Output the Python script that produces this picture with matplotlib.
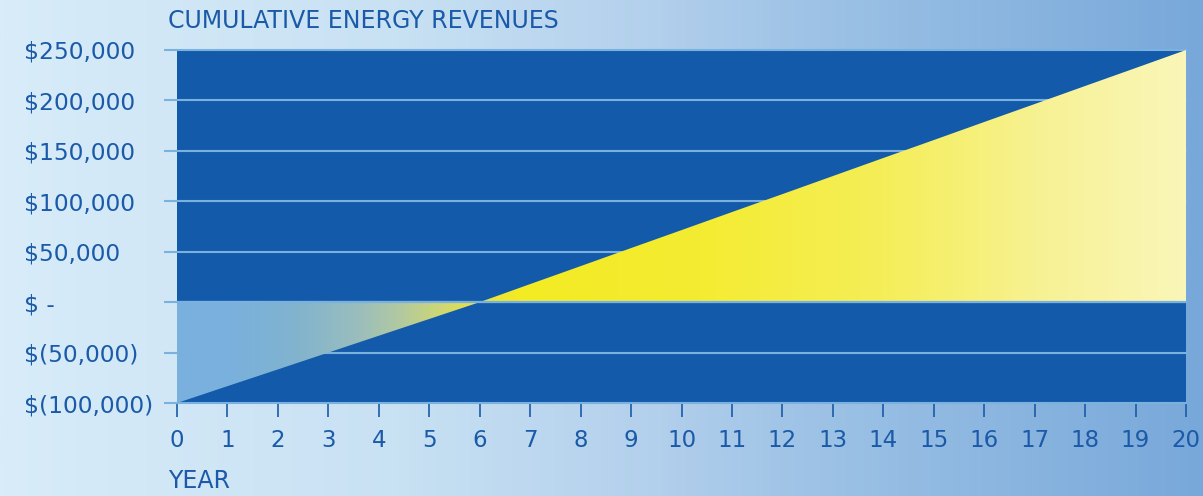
import numpy as np
import matplotlib
matplotlib.use("Agg")
import matplotlib.pyplot as plt
from matplotlib.colors import LinearSegmentedColormap

plt.rcParams['font.family'] = ['DejaVu Sans']
plt.rcParams['text.parse_math'] = False

# data
years = [0, 1, 2, 3, 4, 5, 6, 7, 8, 9, 10, 11, 12, 13, 14, 15, 16, 17, 18, 19, 20]
revenue = [-100000, -83300, -66700, -50000, -33300, -16700, 0, 17900, 35700,
           53600, 71400, 89300, 107100, 125000, 142900, 160700, 178600, 196400,
           214300, 232100, 250000]
ytick_vals = [-100000, -50000, 0, 50000, 100000, 150000, 200000, 250000]
ytick_labels = ["$(100,000)", "$(50,000)", "$ -", "$50,000", "$100,000",
                "$150,000", "$200,000", "$250,000"]
title = "CUMULATIVE ENERGY REVENUES"
xlabel = "YEAR"

text_col = "#1A5AA8"
grid_col = "#7AB1DF"
dark_blue = "#135BAA"

W, H = 1203, 496
fig = plt.figure(figsize=(W / 100, H / 100), dpi=100)

# page background gradient
bg = fig.add_axes([0, 0, 1, 1], zorder=0)
bg_cmap = LinearSegmentedColormap.from_list("bg", [
    (0.0, (216/255, 236/255, 249/255)),
    (0.33, (200/255, 225/255, 243/255)),
    (0.55, (178/255, 207/255, 236/255)),
    (0.67, (158/255, 195/255, 230/255)),
    (1.0, (120/255, 168/255, 218/255))])
bg.imshow(np.linspace(0, 1, 512)[None, :], cmap=bg_cmap, aspect="auto",
          extent=[0, 1, 0, 1])
bg.set_axis_off()

ax = fig.add_axes([177 / W, (H - 403) / H, 1009 / W, 353 / H], zorder=1)
ax.set_facecolor(dark_blue)
ax.set_xlim(0, 20)
ax.set_ylim(-100000, 250000)
for s in ax.spines.values():
    s.set_visible(False)

ax.set_yticks(ytick_vals)
ax.set_yticklabels(ytick_labels, ha="left", color=text_col, fontsize=16.8)
ax.tick_params(axis="y", length=9.4, width=1.5, color=grid_col, pad=100.5)
ax.set_xticks(years)
ax.set_xticklabels([str(y) for y in years], color=text_col, fontsize=16.5)
ax.tick_params(axis="x", length=10, width=1.2, color=text_col, pad=9)
ax.grid(axis="y", color=grid_col, lw=1.5, zorder=0)
ax.set_axisbelow(True)
for gl in ax.get_ygridlines():
    gl.set_clip_on(False)

# gradient fill between the curve and zero
poly = ax.fill_between(years, revenue, 0, color="none", lw=0, zorder=2)
fill_cmap = LinearSegmentedColormap.from_list("fill", [
    (0.0, (121/255, 176/255, 222/255)),
    (0.05, (121/255, 176/255, 222/255)),
    (0.12, (130/255, 180/255, 205/255)),
    (0.18, (155/255, 190/255, 188/255)),
    (0.22, (178/255, 201/255, 160/255)),
    (0.26, (205/255, 214/255, 118/255)),
    (0.29, (230/255, 225/255, 75/255)),
    (0.34, (243/255, 235/255, 35/255)),
    (0.52, (244/255, 236/255, 50/255)),
    (0.70, (245/255, 238/255, 88/255)),
    (0.865, (247/255, 242/255, 150/255)),
    (1.0, (250/255, 246/255, 185/255))])
img = ax.imshow(np.linspace(0, 1, 1024)[None, :], cmap=fill_cmap, aspect="auto",
                extent=[0, 20, -100000, 250000], zorder=2, interpolation="bilinear")
img.set_clip_path(poly.get_paths()[0], transform=ax.transData)

ax.axhline(0, color=grid_col, lw=1.6, zorder=3)

fig.text(168 / W, (H - 28) / H, title, color=text_col, fontsize=17,
         ha="left", va="baseline")
fig.text(168 / W, (H - 488) / H, xlabel, color=text_col, fontsize=17,
         ha="left", va="baseline")

fig.savefig("out.png", dpi=100)
